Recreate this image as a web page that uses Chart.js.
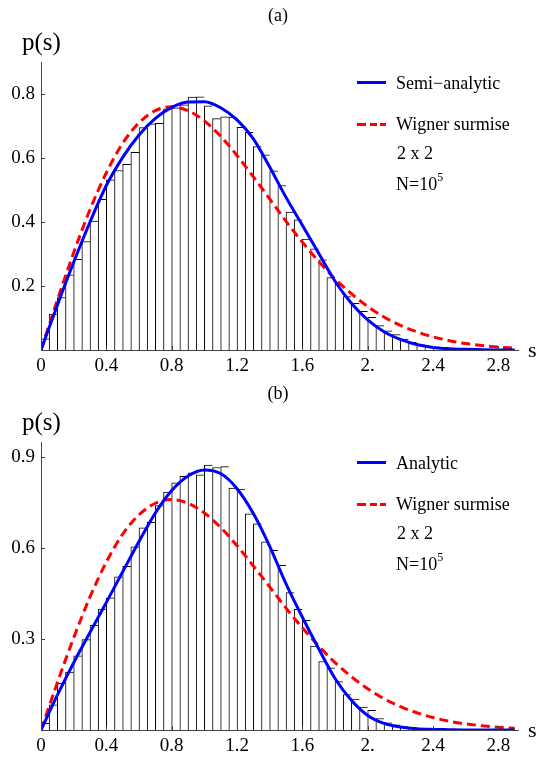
<!DOCTYPE html>
<html>
<head>
<meta charset="utf-8">
<script src="https://cdn.jsdelivr.net/npm/chart.js@4.4.1/dist/chart.umd.min.js"></script>
<style>
  html, body { margin: 0; padding: 0; background: #fff; }
  body { width: 538px; height: 760px; position: relative; overflow: hidden;
         font-family: "Liberation Serif", "DejaVu Serif", serif; color: #000; }
  .panel { position: absolute; left: 0; width: 538px; height: 380px; }
  .panel canvas { position: absolute; left: 0; top: 0; }
  .txt { position: absolute; white-space: nowrap; transform: translateY(-50%); }
  .tag { font-size: 18px; line-height: 18px; transform: translate(-50%, -50%); }
  .ylab { font-size: 25px; line-height: 25px; }
  .xlab { font-size: 22px; line-height: 22px; }
  .key { font-size: 18px; line-height: 18px; }
  .key sup { font-size: 12px; position: relative; top: -2px; }
  .sample { position: absolute; height: 3px; }
</style>
</head>
<body>

<div class="panel" id="panelA" style="top:0px">
  <canvas id="chartA" width="538" height="380"></canvas>
  <div class="txt tag" style="left:278px; top:15px">(a)</div>
  <div class="txt ylab" style="left:22px; top:40.5px">p(s)</div>
  <div class="txt xlab" style="left:528px; top:349.5px">s</div>
  <div class="sample" style="left:357px; top:81px; width:29px; background:#0000ff"></div>
  <div class="txt key" style="left:396px; top:82.7px">Semi&minus;analytic</div>
  <div class="sample" style="left:357px; top:122.5px; width:9px; background:#ff0000"></div>
  <div class="sample" style="left:370px; top:122.5px; width:7px; background:#ff0000"></div>
  <div class="sample" style="left:380px; top:122.5px; width:6px; background:#ff0000"></div>
  <div class="txt key" style="left:396px; top:123.7px">Wigner surmise</div>
  <div class="txt key" style="left:397px; top:152.5px">2 x 2</div>
  <div class="txt key" style="left:396px; top:181px">N=10<sup>5</sup></div>
</div>

<div class="panel" id="panelB" style="top:380px">
  <canvas id="chartB" width="538" height="380"></canvas>
  <div class="txt tag" style="left:278px; top:13px">(b)</div>
  <div class="txt ylab" style="left:22px; top:40.5px">p(s)</div>
  <div class="txt xlab" style="left:528px; top:349.5px">s</div>
  <div class="sample" style="left:357px; top:81px; width:29px; background:#0000ff"></div>
  <div class="txt key" style="left:396px; top:82.7px">Analytic</div>
  <div class="sample" style="left:357px; top:122.5px; width:9px; background:#ff0000"></div>
  <div class="sample" style="left:370px; top:122.5px; width:7px; background:#ff0000"></div>
  <div class="sample" style="left:380px; top:122.5px; width:6px; background:#ff0000"></div>
  <div class="txt key" style="left:396px; top:123.7px">Wigner surmise</div>
  <div class="txt key" style="left:397px; top:152.5px">2 x 2</div>
  <div class="txt key" style="left:396px; top:181px">N=10<sup>5</sup></div>
</div>

<script>
// histogram bins, 0.05 wide, starting at s = 0
const binWidth = 0.05;

// (a) histogram heights
const histA = [
  0.035, 0.112, 0.164, 0.235, 0.283, 0.339, 0.403, 0.471, 0.532, 0.561,
  0.580, 0.618, 0.695, 0.707, 0.708, 0.754, 0.757, 0.766, 0.790, 0.791,
  0.763, 0.723, 0.729, 0.728, 0.696, 0.680, 0.636, 0.610, 0.560, 0.514,
  0.431, 0.407, 0.347, 0.316, 0.282, 0.226, 0.205, 0.167, 0.146, 0.121,
  0.102, 0.076, 0.060, 0.048, 0.034, 0.024, 0.016, 0.011, 0.008, 0.006,
  0.004, 0.003, 0.002, 0.002, 0.001, 0.001, 0.001, 0.001
];

// (b) histogram heights
const histB = [
  0.022, 0.083, 0.154, 0.191, 0.245, 0.298, 0.345, 0.399, 0.436, 0.505,
  0.540, 0.604, 0.667, 0.685, 0.740, 0.785, 0.815, 0.837, 0.848, 0.842,
  0.874, 0.866, 0.869, 0.798, 0.795, 0.713, 0.680, 0.621, 0.593, 0.543,
  0.453, 0.398, 0.362, 0.277, 0.226, 0.205, 0.160, 0.117, 0.102, 0.076,
  0.065, 0.038, 0.024, 0.017, 0.011, 0.008, 0.004, 0.003, 0.002, 0.001,
  0.001, 0, 0, 0, 0, 0, 0, 0
];

// curve sample points (s) and values
const curveS = [0, 0.1, 0.2, 0.3, 0.4, 0.5, 0.6, 0.7, 0.8, 0.9,
                1.0, 1.1, 1.2, 1.3, 1.4, 1.5, 1.6, 1.7, 1.8, 1.9,
                2.0, 2.1, 2.2, 2.3, 2.4, 2.5, 2.6, 2.7, 2.8, 2.9];

const semiAnalyticA = [0, 0.140, 0.274, 0.400, 0.514, 0.602, 0.672, 0.724, 0.758, 0.775,
                       0.776, 0.757, 0.719, 0.660, 0.572, 0.477, 0.390, 0.302, 0.215, 0.146,
                       0.094, 0.057, 0.033, 0.017, 0.008, 0.004, 0.002, 0.001, 0, 0];

const analyticB = [0, 0.115, 0.222, 0.322, 0.421, 0.522, 0.622, 0.716, 0.790, 0.838,
                   0.858, 0.846, 0.796, 0.714, 0.606, 0.482, 0.372, 0.268, 0.170, 0.098,
                   0.048, 0.022, 0.010, 0.004, 0.002, 0.001, 0, 0, 0, 0];

const wigner = [0, 0.156, 0.304, 0.439, 0.554, 0.646, 0.710, 0.748, 0.760, 0.748,
                0.716, 0.668, 0.608, 0.541, 0.472, 0.402, 0.337, 0.277, 0.222, 0.176,
                0.136, 0.103, 0.077, 0.057, 0.041, 0.029, 0.020, 0.014, 0.009, 0.006];

// axes
const xMax = 2.92;
const xTicks = [0, 0.4, 0.8, 1.2, 1.6, 2.0, 2.4, 2.8];
const xTickLabels = ['0', '0.4', '0.8', '1.2', '1.6', '2.', '2.4', '2.8'];
const yTicksA = [0.2, 0.4, 0.6, 0.8];
const yTicksB = [0.3, 0.6, 0.9];
const yMaxA = 0.9;
const yMaxB = 0.95;

const axisColor = '#444';
const tickFont = { family: 'Liberation Serif', size: 19 };

// Mathematica-style ticks pointing into the plot
const inwardTicks = {
  id: 'inwardTicks',
  afterDraw(chart) {
    const { ctx, chartArea, scales } = chart;
    ctx.save();
    ctx.strokeStyle = axisColor;
    ctx.lineWidth = 1;
    ctx.beginPath();
    scales.x.ticks.forEach(t => {
      if (t.value === 0) return;
      const px = Math.round(scales.x.getPixelForValue(t.value)) + 0.5;
      ctx.moveTo(px, chartArea.bottom);
      ctx.lineTo(px, chartArea.bottom - 4);
    });
    scales.y.ticks.forEach(t => {
      const py = Math.round(scales.y.getPixelForValue(t.value)) + 0.5;
      ctx.moveTo(chartArea.left, py);
      ctx.lineTo(chartArea.left + 4, py);
    });
    ctx.stroke();
    ctx.restore();
  }
};

function makePanel(canvasId, hist, curve, curveLabel, yTicks, yMax) {
  const bars = hist.map((h, i) => ({ x: (i + 0.5) * binWidth, y: h }));
  const blue = curveS.map((s, i) => ({ x: s, y: curve[i] }));
  const red = curveS.map((s, i) => ({ x: s, y: wigner[i] }));

  new Chart(document.getElementById(canvasId), {
    type: 'bar',
    data: {
      datasets: [
        {
          type: 'line', label: curveLabel, data: blue, order: 1,
          borderColor: '#0000ff', borderWidth: 3, pointRadius: 0,
          cubicInterpolationMode: 'monotone', fill: false
        },
        {
          type: 'line', label: 'Wigner surmise', data: red, order: 2,
          borderColor: '#ff0000', borderWidth: 3, borderDash: [9, 5], pointRadius: 0,
          cubicInterpolationMode: 'monotone', fill: false
        },
        {
          type: 'bar', label: 'histogram', data: bars, order: 3,
          backgroundColor: '#ffffff', borderColor: '#000',
          borderWidth: { top: 1, left: 1, right: 0, bottom: 0 },
          barPercentage: 1, categoryPercentage: 1, grouped: false
        }
      ]
    },
    options: {
      responsive: false,
      animation: false,
      devicePixelRatio: 1,
      layout: { padding: { top: 62, right: 20, left: 0, bottom: 0 } },
      plugins: { legend: { display: false }, tooltip: { enabled: false } },
      scales: {
        x: {
          type: 'linear', min: 0, max: xMax, offset: false,
          grid: { display: false, drawTicks: false, offset: false },
          border: { display: true, color: axisColor, width: 1, z: 1 },
          afterBuildTicks: sc => { sc.ticks = xTicks.map(v => ({ value: v })); },
          afterFit: sc => { sc.height = 30; },
          ticks: {
            autoSkip: false, maxRotation: 0, padding: 5, color: '#000', font: tickFont,
            callback: (v, i) => xTickLabels[i]
          }
        },
        y: {
          min: 0, max: yMax,
          grid: { display: false, drawTicks: false },
          border: { display: true, color: axisColor, width: 1, z: 1 },
          afterBuildTicks: sc => { sc.ticks = yTicks.map(v => ({ value: v })); },
          afterFit: sc => { sc.width = 41; },
          ticks: {
            autoSkip: false, padding: 6, color: '#000', font: tickFont,
            callback: v => v.toFixed(1)
          }
        }
      }
    },
    plugins: [inwardTicks]
  });
}

makePanel('chartA', histA, semiAnalyticA, 'Semi-analytic', yTicksA, yMaxA);
makePanel('chartB', histB, analyticB, 'Analytic', yTicksB, yMaxB);
</script>
</body>
</html>
